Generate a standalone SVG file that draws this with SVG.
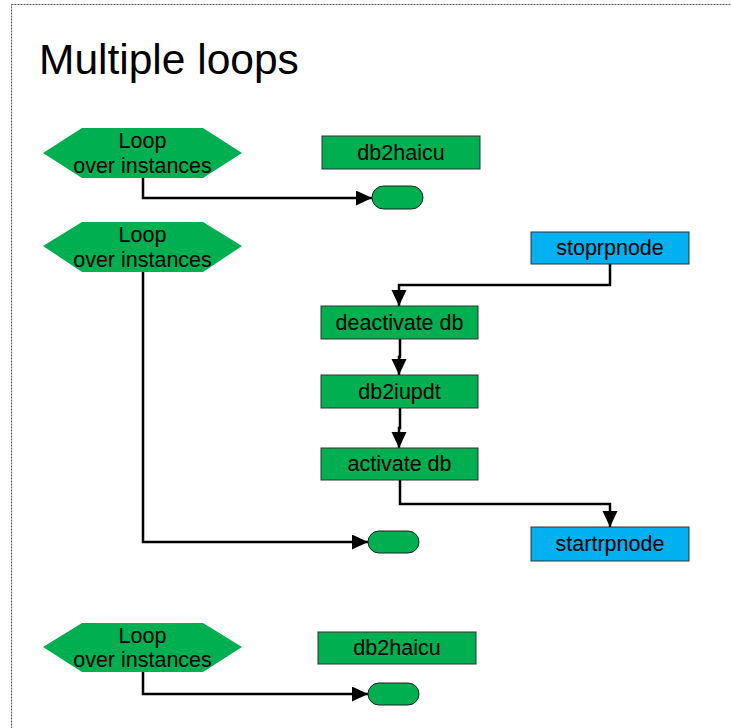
<svg xmlns="http://www.w3.org/2000/svg" width="731" height="728" viewBox="0 0 731 728">
  <style>
    .frame { fill: none; stroke: #555; stroke-width: 1; stroke-dasharray: 2 1; }
    .title { font-family: "Liberation Sans", Arial, sans-serif; font-size: 42.5px; fill: #000; }
    .lbl { font-family: "Liberation Sans", Arial, sans-serif; font-size: 21.5px; fill: #000; text-anchor: middle; }
    .step { fill: #00B050; stroke: #333; stroke-width: 1; }
    .ext { fill: #00B0F0; stroke: #333; stroke-width: 1; }
    .loop { fill: #00B050; stroke: none; }
    .term { fill: #00B050; stroke: #222; stroke-width: 1; }
    .wire { fill: none; stroke: #000; stroke-width: 2.5; stroke-linejoin: miter; marker-end: url(#arrow); }
  </style>
  <defs>
    <marker id="arrow" markerUnits="userSpaceOnUse" markerWidth="17" markerHeight="16" refX="16" refY="7.5" orient="auto">
      <path d="M0,0 L16,7.5 L0,15 z" fill="#000"/>
    </marker>
  </defs>

  <rect width="731" height="728" fill="#fff"/>
  <rect class="frame" x="11.5" y="4.5" width="760" height="760"/>

  <text class="title" x="39" y="74">Multiple loops</text>

  <!-- connectors -->
  <g id="connectors">
    <path class="wire" d="M143,178 V198 H372"/>
    <path class="wire" d="M143,272 V542 H368"/>
    <path class="wire" d="M610,264 V285 H399 V306"/>
    <path class="wire" d="M400,339 V357 H399 V375"/>
    <path class="wire" d="M400,408 V428 H399 V448"/>
    <path class="wire" d="M400,480 V504 H610 V527"/>
    <path class="wire" d="M143,672 V694 H368"/>
  </g>

  <!-- first loop -->
  <g id="loop1">
    <polygon class="loop" points="43,153 82,128 203,128 242,153 203,178 82,178"/>
    <text class="lbl" x="142.5" y="148">Loop</text>
    <text class="lbl" x="142.5" y="173">over instances</text>
  </g>
  <g id="haicu1">
    <rect class="step" x="322" y="136" width="158" height="33"/>
    <text class="lbl" x="401" y="160">db2haicu</text>
  </g>
  <g id="end1">
    <rect class="term" x="372" y="186" width="51" height="23" rx="11.5"/>
  </g>

  <!-- second loop -->
  <g id="loop2">
    <polygon class="loop" points="43,246 82,222 203,222 242,246 203,272 82,272"/>
    <text class="lbl" x="142.5" y="242">Loop</text>
    <text class="lbl" x="142.5" y="267">over instances</text>
  </g>
  <g id="stoprpnode">
    <rect class="ext" x="531" y="232" width="158" height="32"/>
    <text class="lbl" x="610" y="255">stoprpnode</text>
  </g>
  <g id="deactivate">
    <rect class="step" x="321" y="306" width="157" height="33"/>
    <text class="lbl" x="399.5" y="330">deactivate db</text>
  </g>
  <g id="iupdt">
    <rect class="step" x="321" y="375" width="157" height="33"/>
    <text class="lbl" x="399.5" y="399">db2iupdt</text>
  </g>
  <g id="activate">
    <rect class="step" x="321" y="448" width="157" height="32"/>
    <text class="lbl" x="399.5" y="471">activate db</text>
  </g>
  <g id="startrpnode">
    <rect class="ext" x="531" y="527" width="158" height="34"/>
    <text class="lbl" x="610" y="551">startrpnode</text>
  </g>
  <g id="end2">
    <rect class="term" x="368" y="531" width="51" height="22" rx="11"/>
  </g>

  <!-- third loop -->
  <g id="loop3">
    <polygon class="loop" points="43,647 82,623 203,623 242,647 203,672 82,672"/>
    <text class="lbl" x="142.5" y="643">Loop</text>
    <text class="lbl" x="142.5" y="667">over instances</text>
  </g>
  <g id="haicu3">
    <rect class="step" x="318" y="632" width="158" height="32"/>
    <text class="lbl" x="397" y="655">db2haicu</text>
  </g>
  <g id="end3">
    <rect class="term" x="368" y="683" width="51" height="22" rx="11"/>
  </g>
</svg>
